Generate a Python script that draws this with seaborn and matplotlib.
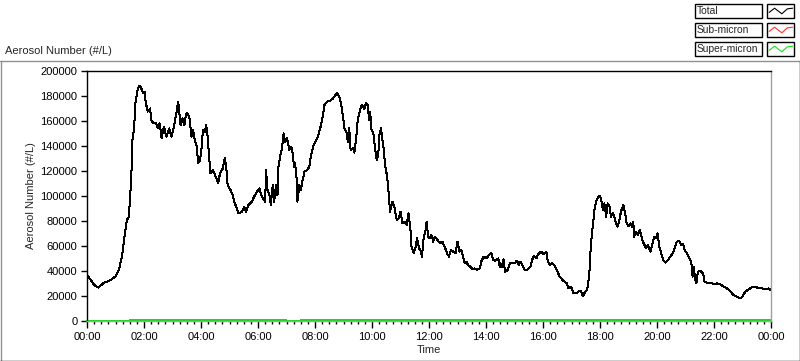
import pandas as pd
import matplotlib
matplotlib.use("Agg")
import matplotlib.pyplot as plt
import matplotlib.dates as mdates
from matplotlib.patches import Rectangle
from matplotlib.lines import Line2D
import seaborn as sns

# minutes after midnight and total aerosol number (#/L)
total_min = [
    0, 8, 15, 24, 35, 50, 61, 67, 72, 75, 80, 84, 88, 90, 93, 96, 99, 102, 107, 111,
    114, 118, 121, 124, 128, 133, 135, 140, 145, 149, 153, 157, 162, 167, 173, 178,
    183, 188, 192, 197, 201, 205, 208, 211, 216, 220, 223, 227, 231, 234, 238, 241,
    244, 248, 251, 254, 257, 260, 265, 271, 276, 280, 286, 290,
    293, 296, 302, 307, 310, 314, 319, 326, 331, 335, 340, 347, 352, 358, 363, 366,
    370, 375, 377, 380, 384, 387, 391, 394, 398, 401, 403, 407, 410, 414, 417, 421,
    426, 430, 433, 436, 438, 441, 443, 447, 450, 454, 458, 463, 468, 471, 476, 481,
    486, 491, 496, 500, 506, 512, 518, 523, 526, 531, 534, 538, 542, 546, 549, 552,
    555, 560, 563, 567, 570, 574, 578,
    580, 584, 587, 591, 594, 596, 599, 603, 606, 610, 613, 616, 619, 621, 624, 628,
    632, 635, 638, 643, 647, 652, 656, 660, 664, 668, 673, 677, 681, 683, 688, 692,
    695, 699, 702, 705, 709, 713, 715, 718, 722, 725, 729, 732, 738, 743, 748, 753,
    758, 762, 766, 771, 776, 780, 784, 788, 792, 795, 799, 802, 807, 812, 816, 821,
    827, 830, 835, 841, 846, 851, 855, 860, 866, 869,
    871, 874, 877, 880, 886, 890, 894, 900, 905, 909, 913, 918, 922, 928, 934, 937,
    941, 946, 950, 956, 961, 967, 970, 975, 979, 984, 989, 995, 1000, 1005, 1010,
    1014, 1019, 1024, 1030, 1035, 1039, 1044, 1049, 1053, 1056, 1058, 1060, 1063,
    1066, 1068, 1072, 1076, 1079, 1082, 1086, 1089, 1093, 1096, 1100, 1103, 1107,
    1110, 1114, 1117, 1121, 1124, 1129, 1133, 1136, 1140, 1144, 1147, 1150, 1152,
    1156, 1160,
    1164, 1169, 1172, 1177, 1181, 1186, 1190, 1194, 1198, 1201, 1205, 1209, 1213,
    1218, 1222, 1228, 1233, 1237, 1242, 1246, 1251, 1255, 1258, 1263, 1268, 1272,
    1275, 1277, 1281, 1283, 1286, 1291, 1297, 1300, 1305, 1312, 1319, 1326, 1333,
    1340, 1347, 1354, 1361, 1368, 1375, 1380, 1386, 1393, 1400, 1407, 1414, 1421,
    1428, 1435, 1439,
]
total_val = [
    36800, 32800, 28800, 26700, 30400, 32800, 36000, 40800, 48800, 55500, 70400, 80800,
    83500, 94400, 112800, 147500, 152800, 174400, 186000, 188300, 186400, 182100,
    183500, 174100, 167500, 170100, 160800, 158100, 158700, 154100, 158100, 146100,
    155500, 147500, 154100, 147500, 155500, 166100, 175500, 156800, 162100, 156800,
    164800, 166700, 162100, 147500, 152800, 144800, 139500, 126100, 128800, 138100,
    152800, 151500, 156800, 147500, 131500, 118100, 120800, 115500, 110100, 118100,
    122100, 130100,
    123400, 108800, 104800, 100800, 95500, 91500, 86100, 87500, 91500, 87500, 92800,
    95500, 99500, 103500, 106100, 102100, 98100, 95500, 120800, 104800, 100800, 92800,
    108800, 95500, 108800, 100800, 123400, 132800, 136800, 150100, 143500, 146100,
    136800, 139500, 134100, 123400, 126100, 115500, 95500, 108800, 104800, 112800,
    119500, 120800, 123400, 131500, 139500, 143500, 147500, 154100, 163500, 172800,
    175500, 176300, 178100, 180800, 182700, 179500, 175500, 166100, 154100, 151500,
    143500, 154100, 136800, 138100, 134700, 147500, 160800, 167500, 172800,
    172000, 169300, 174100, 172800, 160800, 167500, 152800, 150100, 139500, 128800,
    132800, 150100, 154100, 147500, 139500, 123400, 115500, 102100, 87500, 95500,
    91500, 80800, 82100, 87500, 78100, 79500, 76800, 86100, 72800, 59500, 54100,
    59500, 66100, 58100, 56800, 51500, 67500, 72800, 79500, 67500, 66100, 68800,
    63500, 67500, 64800, 62100, 63500, 59500, 54100, 51500, 56800, 55500, 54100,
    63500, 55500, 56800, 51500, 46100, 47500, 44800, 43500, 41300, 42100, 40800,
    42100, 47500, 51500, 50100, 52800, 54700, 48800, 48300, 50100, 43500,
    46100, 43500, 49300, 39500, 40800, 46100, 46700, 46100, 48300, 44800, 47500,
    43500, 40800, 41300, 43500, 48800, 52000, 50100, 53600, 55500, 53600, 55500,
    47500, 44800, 46100, 44800, 40800, 35500, 33300, 31500, 30100, 26100, 27500,
    22100, 22100, 23500, 24300, 20000, 23500, 24800, 32800, 40800, 55500, 70100,
    79500, 88800, 95500, 99500, 100000, 98100, 88800, 94100, 83500, 94100, 91500,
    83500, 86100, 83500, 78100, 75500, 80800, 87500, 92800, 86100, 78100, 76000,
    78100, 75500, 79500, 67500, 71500, 68800,
    72800, 64800, 62100, 58100, 60800, 55500, 60800, 67500, 66100, 70100, 59500,
    54100, 48800, 46700, 48300, 51500, 54100, 58100, 63500, 64300, 60800, 61600,
    56800, 54100, 50100, 47500, 35500, 43500, 32800, 30100, 39500, 40000, 38100,
    31500, 30700, 30700, 29600, 30100, 29600, 27500, 26100, 24000, 20800, 19500,
    18100, 19500, 23500, 25300, 26900, 27500, 26100, 26100, 25300, 26100, 24800,
]
# sub-micron is indistinguishable from the total at this scale
sub_val = list(total_val)

# super-micron, every 30 minutes
super_min = list(range(0, 1441, 30))
super_val = [
    0, 200, 200, 300, 900, 1000, 900, 1000, 900, 400, 800, 900, 600, 500, 300, 300,
    400, 800, 900, 800, 400, 300, 500, 800, 900, 900, 700, 800, 600, 800, 900, 800,
    500, 800, 700, 400, 900, 1000, 900, 900, 600, 800, 600, 700, 800, 700, 500, 800,
    600,
]

day = pd.Timestamp("2000-01-01")
df_total = pd.DataFrame({"Time": day + pd.to_timedelta(total_min, unit="m"), "value": total_val})
df_sub = pd.DataFrame({"Time": day + pd.to_timedelta(total_min, unit="m"), "value": sub_val})
df_super = pd.DataFrame({"Time": day + pd.to_timedelta(super_min, unit="m"), "value": super_val})

sns.set_theme(style="white")
plt.rcParams["font.family"] = ["Liberation Sans", "DejaVu Sans"]

W, H = 800, 361
fig = plt.figure(figsize=(W / 100, H / 100), dpi=100)
fig.patch.set_facecolor("white")
ax = fig.add_axes([87 / W, 1 - 321 / H, 684 / W, 250 / H])

sns.lineplot(data=df_sub, x="Time", y="value", color="#ff2020", lw=0.72, ax=ax,
             estimator=None, sort=False, antialiased=False)
sns.lineplot(data=df_total, x="Time", y="value", color="black", lw=0.72, ax=ax,
             estimator=None, sort=False, antialiased=False)
sns.lineplot(data=df_super, x="Time", y="value", color="#10e010", lw=0.9, ax=ax,
             estimator=None, sort=False, clip_on=False, antialiased=False)

ax.set_xlim(day, day + pd.Timedelta(days=1))
ax.set_ylim(0, 200000)
ax.set_yticks(range(0, 200001, 20000))
ax.yaxis.set_major_formatter(plt.FuncFormatter(lambda v, _: f"{int(v)}"))
ax.xaxis.set_major_locator(mdates.HourLocator(byhour=range(0, 24, 2)))
ax.xaxis.set_minor_locator(mdates.MinuteLocator(byminute=[0, 15, 30, 45]))
ax.xaxis.set_major_formatter(mdates.DateFormatter("%H:%M"))

ax.tick_params(axis="both", which="major", direction="out", length=4.5, width=1,
               color="black", labelsize=8, pad=2.5, labelcolor="black")
ax.tick_params(axis="x", which="minor", direction="out", length=2.5, width=1, color="black")
ax.tick_params(axis="x", which="major", length=5, pad=3)
ax.xaxis.set_ticks_position("bottom")
ax.yaxis.set_ticks_position("left")

ax.set_xlabel("Time", fontsize=8, labelpad=2)
ax.set_ylabel("Aerosol Number (#/L)", fontsize=8, labelpad=3)

for side in ["top", "left"]:
    ax.spines[side].set_color("black")
    ax.spines[side].set_linewidth(1)
for side in ["bottom", "right"]:
    ax.spines[side].set_color("#a0a0a0")
    ax.spines[side].set_linewidth(1)
ax.set_facecolor("white")

# title-like label above the plot
fig.text(5 / W, 1 - 51 / H, "Aerosol Number (#/L)", fontsize=8, ha="left", va="center")

# panel frame
fig.add_artist(Line2D([0, 1], [1 - 61 / H, 1 - 61 / H], transform=fig.transFigure, color="#909090", lw=1))
fig.add_artist(Line2D([0.5 / W, 0.5 / W], [0, 1 - 61 / H], transform=fig.transFigure, color="#909090", lw=1))
fig.add_artist(Line2D([0, 1], [0.5 / H, 0.5 / H], transform=fig.transFigure, color="black", lw=1))
fig.add_artist(Line2D([1 - 0.5 / W, 1 - 0.5 / W], [0, 1 - 61 / H], transform=fig.transFigure, color="black", lw=1))

# legend boxes
legend_names = ["Total", "Sub-micron", "Super-micron"]
legend_colors = ["black", "#ff3030", "#10e010"]
row_tops = [4, 23, 42]
zig_x = [0.08, 0.28, 0.55, 0.75, 0.95]
zig_y = [0.6, 0.3, 0.7, 0.35, 0.3]
for name, col, top in zip(legend_names, legend_colors, row_tops):
    h = 14
    fig.add_artist(Rectangle((695 / W, 1 - (top + h) / H), 67 / W, h / H,
                             transform=fig.transFigure, fill=False, edgecolor="black", lw=1))
    fig.text(697 / W, 1 - (top + h / 2) / H, name, fontsize=7.4, ha="left", va="center")
    fig.add_artist(Rectangle((767 / W, 1 - (top + h) / H), 27 / W, h / H,
                             transform=fig.transFigure, fill=False, edgecolor="black", lw=1))
    xs = [(767 + 27 * zx) / W for zx in zig_x]
    ys = [1 - (top + h * zy) / H for zy in zig_y]
    fig.add_artist(Line2D(xs, ys, transform=fig.transFigure, color=col, lw=0.8))

fig.savefig("out.png", dpi=100)
